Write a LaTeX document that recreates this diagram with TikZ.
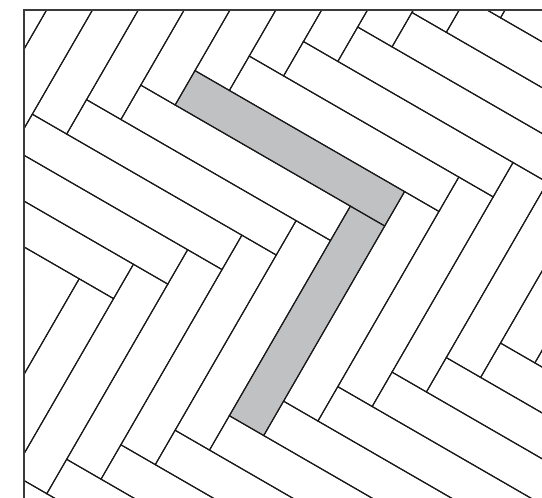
\documentclass[tikz,border=0pt]{standalone}
\definecolor{plankgray}{HTML}{C0C1C3}
\definecolor{framegray}{HTML}{3A3A3A}
\begin{document}
\begin{tikzpicture}[x=1pt,y=-1pt,
  plank/.style={draw=black!90, line width=1.1pt, line join=miter},
  grayplank/.style={fill=plankgray},
  eraser/.style={draw=white, line width=2.6pt},
  frameline/.style={draw=framegray, line width=2.3pt, line cap=rect}]
\useasboundingbox (0,0) rectangle (542,498);
\def\pw{39.7}
\def\pl{242}
\begin{scope}
  \clip (24.2,10.2) rectangle (560,520);
  \begin{scope}[shift={(195,70.6)}, rotate=-30]
    % gray chevron
    \path[grayplank] (0,0) rectangle ++(\pl,\pw);
    \path[grayplank] ({\pl-\pw},\pw) rectangle ++(\pw,\pl);
    \foreach \i in {-12,...,10} {
      \foreach \j in {-2,...,3} {
        \draw[plank] ({\i*\pw+\j*\pl},{-\i*\pw+\j*\pl}) rectangle ++(\pl,\pw);
        \draw[plank] ({\pl-\pw+\i*\pw+\j*\pl},{\pw-\i*\pw+\j*\pl}) rectangle ++(\pw,\pl);
      }
    }
    % the reference leaves this short edge out at the left border
    \coordinate (ea) at (-48,{7*\pw});
    \coordinate (eb) at (2.9,{7*\pw});
    \draw[eraser] (ea) -- (eb);
  \end{scope}
\end{scope}
\coordinate (fc) at (24.2,10.2);
\coordinate (fr) at (545,10.2);
\coordinate (fb) at (24.2,501);
\draw[frameline] (fb) -- (fc) -- (fr);
\end{tikzpicture}
\end{document}
